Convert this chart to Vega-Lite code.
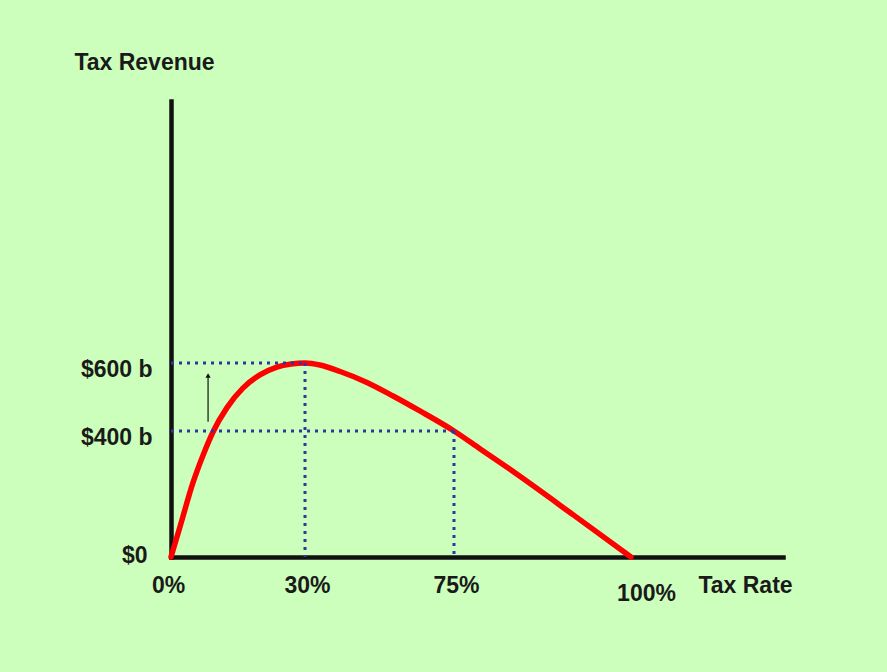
{
  "$schema": "https://vega.github.io/schema/vega-lite/v6.json",
  "autosize": {"type": "none"},
  "width": 612,
  "height": 456,
  "padding": {"left": 171, "top": 101, "right": 104, "bottom": 115},
  "background": "#CCFFBB",
  "config": {
    "view": {"stroke": null},
    "font": "Liberation Sans",
    "axis": {
      "grid": false,
      "ticks": false,
      "tickSize": 0,
      "labelFlush": false,
      "labelOverlap": false,
      "domainColor": "#111111",
      "domainWidth": 4.5,
      "domainCap": "square",
      "labelFont": "Liberation Sans",
      "labelFontWeight": "bold",
      "labelFontSize": 23,
      "labelColor": "#1a1a1a",
      "titleFont": "Liberation Sans",
      "titleFontWeight": "bold",
      "titleFontSize": 23,
      "titleColor": "#1a1a1a"
    }
  },
  "datasets": {
    "curve": [
      {"rate": 0, "rev": 0},
      {"rate": 2.0, "rev": 95},
      {"rate": 4.9, "rev": 235},
      {"rate": 7.2, "rev": 324},
      {"rate": 9.4, "rev": 397},
      {"rate": 12.5, "rev": 468},
      {"rate": 16.1, "rev": 526},
      {"rate": 19.9, "rev": 565},
      {"rate": 23.7, "rev": 588},
      {"rate": 26.9, "rev": 597},
      {"rate": 30, "rev": 600},
      {"rate": 34.5, "rev": 594},
      {"rate": 40.6, "rev": 575},
      {"rate": 48.7, "rev": 543},
      {"rate": 56.6, "rev": 503},
      {"rate": 64.7, "rev": 459},
      {"rate": 75, "rev": 400},
      {"rate": 78.7, "rev": 343},
      {"rate": 82.6, "rev": 283},
      {"rate": 91.9, "rev": 133},
      {"rate": 100, "rev": 0}
    ],
    "guides": [
      {"x1": 0, "x2": 30, "y1": 600, "y2": 600},
      {"x1": 30, "x2": 30, "y1": 600, "y2": 0},
      {"x1": 0, "x2": 75, "y1": 400, "y2": 400},
      {"x1": 75, "x2": 75, "y1": 400, "y2": 0}
    ],
    "arrow": [
      {"x1": 8.3, "y1": 427, "y2": 560}
    ],
    "arrowhead": [
      {"x1": 8.3, "y1": 563}
    ]
  },
  "layer": [
    {
      "data": {"name": "curve"},
      "mark": {"type": "line", "color": "#FF0000", "strokeWidth": 5.5, "interpolate": "monotone", "strokeCap": "round", "clip": false},
      "encoding": {
        "x": {
          "field": "rate",
          "type": "quantitative",
          "scale": {"domain": [0, 30, 75, 100, 121.5], "range": [0, 134, 283, 460, 612], "nice": false, "zero": false},
          "axis": {
            "values": [0, 30, 75, 100],
            "labelExpr": "datum.value + '%'",
            "labelPadding": {"condition": {"test": "datum.value == 100", "value": 25}, "value": 17},
            "labelOffset": {"condition": [{"test": "datum.value == 100", "value": 15}, {"test": "datum.value == 0", "value": -3}], "value": 2},
            "labelBaseline": "top",
            "labelAlign": "center",
            "title": "Tax Rate",
            "titleX": 574,
            "titleY": 28,
            "titleAlign": "center",
            "titleBaseline": "middle",
            "titleAnchor": null
          }
        },
        "y": {
          "field": "rev",
          "type": "quantitative",
          "scale": {"domain": [0, 400, 600, 1370], "range": [456, 330, 262, 0], "nice": false, "zero": false},
          "axis": {
            "values": [0, 400, 600],
            "labelExpr": "datum.value == 0 ? '$0' : '$' + datum.value + ' b'",
            "labelPadding": {"condition": {"test": "datum.value == 0", "value": 24}, "value": 19},
            "labelOffset": {"condition": {"test": "datum.value == 0", "value": -2}, "value": 6},
            "labelBaseline": "middle",
            "title": "Tax Revenue",
            "titleAngle": 0,
            "titleX": -27,
            "titleY": -39,
            "titleAlign": "center",
            "titleBaseline": "middle",
            "titleAnchor": null
          }
        }
      }
    },
    {
      "data": {"name": "guides"},
      "mark": {"type": "rule", "color": "#3035A5", "strokeWidth": 3, "strokeDash": [3, 5]},
      "encoding": {
        "x": {"field": "x1", "type": "quantitative"},
        "x2": {"field": "x2"},
        "y": {"field": "y1", "type": "quantitative"},
        "y2": {"field": "y2"}
      }
    },
    {
      "data": {"name": "arrow"},
      "mark": {"type": "rule", "color": "#222222", "strokeWidth": 1.3},
      "encoding": {
        "x": {"field": "x1", "type": "quantitative"},
        "y": {"field": "y1", "type": "quantitative"},
        "y2": {"field": "y2"}
      }
    },
    {
      "data": {"name": "arrowhead"},
      "mark": {"type": "point", "shape": "triangle-up", "filled": true, "color": "#111111", "size": 28, "opacity": 1},
      "encoding": {
        "x": {"field": "x1", "type": "quantitative"},
        "y": {"field": "y1", "type": "quantitative"}
      }
    }
  ]
}
